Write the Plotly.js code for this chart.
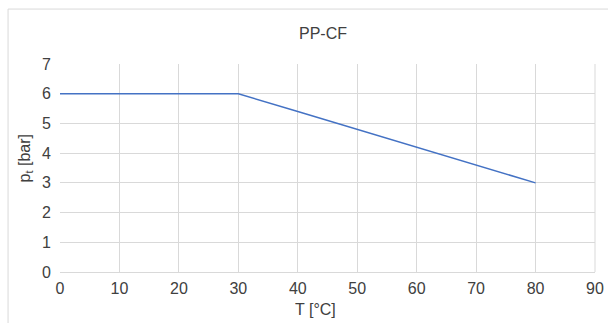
<!DOCTYPE html>
<html>
<head>
<meta charset="utf-8">
<script src="https://cdn.plot.ly/plotly-3.0.1.min.js"></script>
<style>html,body{margin:0;padding:0;background:#fff;}#chart{width:608px;height:323px;}</style>
</head>
<body>
<div id="chart"></div>
<script>
const temperatures = [0, 10, 20, 30, 40, 50, 60, 70, 80];
const pressures = [6, 6, 6, 6, 5.4, 4.8, 4.2, 3.6, 3];
const chartTitle = "PP-CF";
const xTitle = "T [°C]";
const yTitle = "p<sub>t</sub> [bar]";

const plotL = 59.5, plotR = 595, plotT = 63.5, plotB = 271.7;
const pw = plotR - plotL, ph = plotB - plotT;
const px = v => (v - plotL) / pw;
const py = v => (plotB - v) / ph;

const font = {family: "Liberation Sans, Arial, sans-serif", size: 16, color: "#404040"};

Plotly.newPlot("chart", [{
  x: temperatures, y: pressures, type: "scatter", mode: "lines",
  line: {color: "#4472C4", width: 1.5}, hoverinfo: "skip"
}], {
  width: 608, height: 323,
  margin: {l: plotL, r: 608 - plotR, t: plotT, b: 323 - plotB, pad: 0},
  paper_bgcolor: "#fff", plot_bgcolor: "#fff",
  font: font, showlegend: false,
  xaxis: {range: [0, 90], dtick: 10, tick0: 0, showgrid: true, gridcolor: "#d9d9d9", gridwidth: 1,
    zeroline: false, showline: true, linecolor: "#d9d9d9", linewidth: 1, ticks: "", ticklabelstandoff: 2,
    tickfont: font, automargin: false, fixedrange: true},
  yaxis: {range: [0, 7], dtick: 1, tick0: 0, showgrid: true, gridcolor: "#d9d9d9", gridwidth: 1,
    zeroline: false, showline: false, ticks: "", ticklabelstandoff: 8,
    tickfont: font, automargin: false, fixedrange: true},
  annotations: [
    {text: chartTitle, xref: "paper", yref: "paper", x: px(323), y: py(33), xanchor: "center", yanchor: "middle", showarrow: false, font: font},
    {text: xTitle, xref: "paper", yref: "paper", x: px(315.5), y: py(309), xanchor: "center", yanchor: "middle", showarrow: false, font: font},
    {text: yTitle, xref: "paper", yref: "paper", x: px(24.5), y: py(158), xanchor: "center", yanchor: "middle", textangle: -90, showarrow: false, font: font}
  ],
  shapes: [{type: "rect", xref: "paper", yref: "paper", x0: px(7.5), x1: px(612), y0: py(330), y1: py(8.5),
    line: {color: "#d9d9d9", width: 1}, fillcolor: "rgba(0,0,0,0)", layer: "below"},
    {type: "line", xref: "paper", yref: "paper", x0: 1, x1: 1, y0: 0, y1: 1, line: {color: "#d9d9d9", width: 1}}]
}, {staticPlot: true, displayModeBar: false});
</script>
</body>
</html>
